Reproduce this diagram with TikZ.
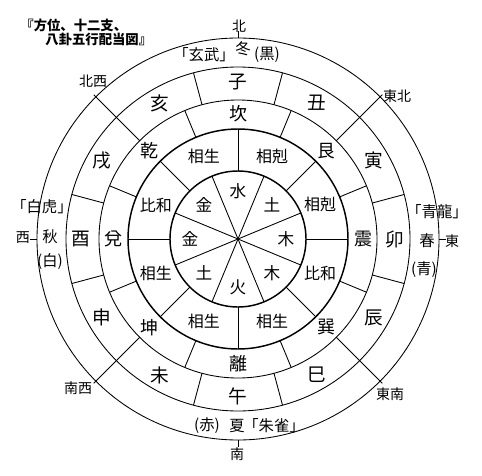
\documentclass[tikz,border=0pt]{standalone}
\usepackage{fontspec}
\setmainfont{Noto Sans CJK JP}
\begin{document}
\begin{tikzpicture}[x=0.75pt,y=0.75pt,line width=0.65pt,
  branch/.style={inner sep=0pt,font=\fontsize{14}{14}\selectfont},
  trigram/.style={inner sep=0pt,font=\fontsize{13.5}{14}\selectfont},
  relation/.style={inner sep=0pt,font=\fontsize{12}{12}\selectfont},
  element/.style={inner sep=0pt,font=\fontsize{12.5}{13}\selectfont},
  season/.style={inner sep=0pt,font=\fontsize{11.5}{12}\selectfont},
  dirlabel/.style={inner sep=0pt,font=\fontsize{10.5}{11}\selectfont},
  titletext/.style={inner sep=0pt,anchor=west,font=\fontsize{10}{10}\selectfont\bfseries},
  boldring/.style={line width=1.1pt}]
\useasboundingbox (0,0) rectangle (482,-475);
\fill[white] (0,0) rectangle (482,-475);
\begin{scope}[shift={(238,-239)}]
  % circles
  \draw (0,0) circle (201);
  \draw (0,0) circle (172);
  \draw (0,0) circle (139);
  \draw[boldring] (0,0) circle (110);
  \draw[boldring] (0,0) circle (68);
  % cardinal ticks
  \foreach \a in {0,90,180,270} \draw (\a:201) -- (\a:208);
  % diagonals
  \foreach \a in {45,135,225,315} \draw (\a:139) -- (\a:204);
  % twelve branches ring dividers
  \foreach \a in {15,75,105,165,195,255,285,345} \draw (\a:139) -- (\a:172);
  % trigram ring dividers
  \foreach \a in {22.5,67.5,...,337.5} \draw (\a:110) -- (\a:139);
  % relation ring dividers
  \foreach \a in {0,45,...,315} \draw (\a:68) -- (\a:110);
  % inner sectors
  \foreach \a in {22.5,67.5,...,337.5} \draw (0,0) -- (\a:68);
  % inner elements
  \foreach \a/\t/\n in {90/水/e1,45/土/e2,0/木/e3,-45/木/e4,-90/火/e5,-135/土/e6,180/金/e7,135/金/e8}
    \node[element] (\n) at (\a:48) {\t};
  % relations
  \foreach \a/\t/\n in {112.5/相生/r1,67.5/相剋/r2,22.5/相剋/r3,-22.5/比和/r4,-67.5/相生/r5,-112.5/相生/r6,-157.5/相生/r7,157.5/比和/r8}
    \node[relation] (\n) at (\a:89) {\t};
  % trigrams
  \foreach \a/\t/\n in {90/坎/t1,45/艮/t2,0/震/t3,-45/巽/t4,-90/離/t5,-135/坤/t6,180/兌/t7,135/乾/t8}
    \node[trigram] (\n) at (\a:125) {\t};
  % branches
  \foreach \a/\t/\n in {90/子/b1,60/丑/b2,30/寅/b3,0/卯/b4,-30/辰/b5,-60/巳/b6,-90/午/b7,-120/未/b8,-150/申/b9,180/酉/b10,150/戌/b11,120/亥/b12}
    \node[branch] (\n) at (\a:157) {\t};
\end{scope}
% outer ring texts
\node[season] (xuanwu) at (204,-55) {「玄武」};
\node[season] (dong) at (243,-49) {冬};
\node[season] (hei) at (267,-55) {(黒)};
\node[season] (chi) at (207,-426) {(赤)};
\node[season] (xia) at (237,-426) {夏};
\node[season] (zhuque) at (274,-426) {「朱雀」};
\node[season] (baihu) at (42,-207) {「白虎」};
\node[season] (qiu) at (50,-237) {秋};
\node[season] (bai) at (50,-262) {(白)};
\node[season] (qinglong) at (437,-212) {「青龍」};
\node[season] (chun) at (427,-241) {春};
\node[season] (qing) at (424,-270) {(青)};
% directions
\node[dirlabel] (n) at (239,-26) {北};
\node[dirlabel] (w) at (23,-238) {西};
\node[dirlabel] (e) at (452,-241) {東};
\node[dirlabel] (s) at (237,-454) {南};
\node[dirlabel] (nw) at (93,-81) {北西};
\node[dirlabel] (ne) at (397,-96) {東北};
\node[dirlabel] (sw) at (78,-388) {南西};
\node[dirlabel] (se) at (390,-394) {東南};
% title
\node[titletext] (title1) at (20,-25) {『方位、十二支、};
\node[titletext] (title2) at (45,-39) {八卦五行配当図』};
\end{tikzpicture}
\end{document}
